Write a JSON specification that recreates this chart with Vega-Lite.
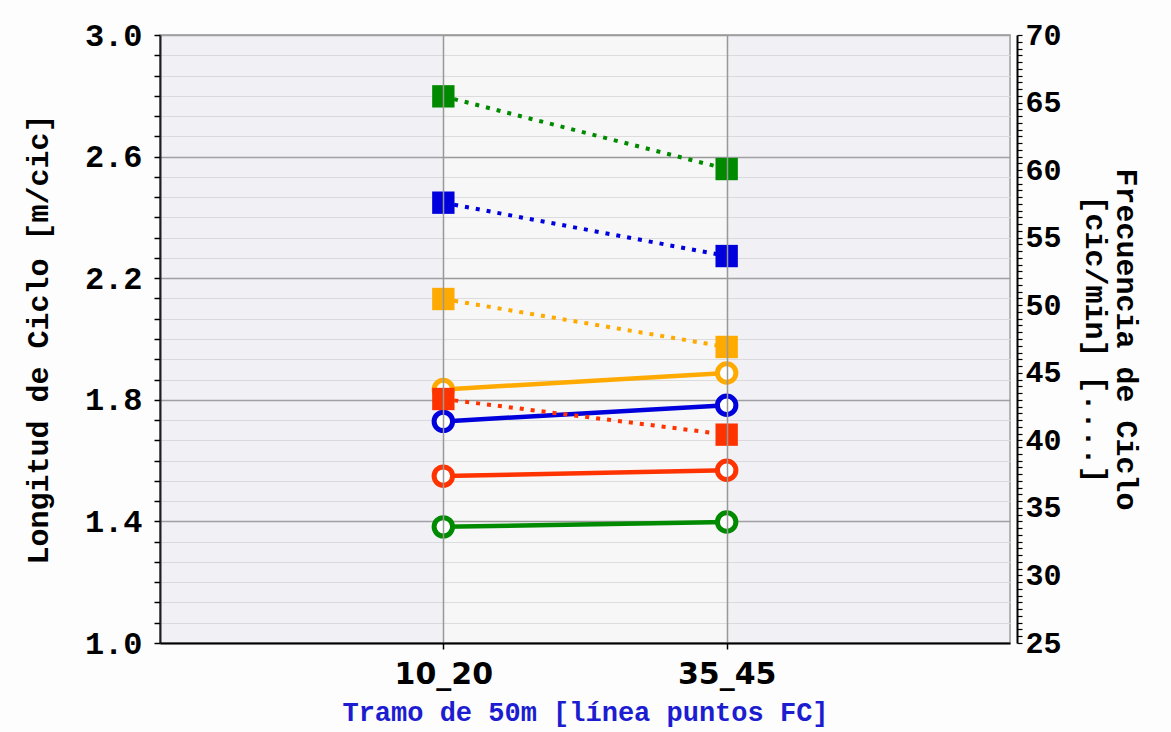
{
  "$schema": "https://vega.github.io/schema/vega-lite/v6.json",
  "width": 850,
  "height": 608,
  "autosize": {"type": "none"},
  "padding": {"left": 160, "top": 35, "right": 161, "bottom": 89},
  "background": "#fdfdfd",
  "config": {
    "view": {"fill": "#f7f7f7", "stroke": "#999999", "strokeWidth": 1.5},
    "axis": {"labelColor": "black", "titleColor": "black", "domainColor": "black", "tickColor": "black"}
  },
  "data": {
    "values": [
      {"tramo": "10_20", "nadador": "A", "medida": "Longitud", "valor": 1.382},
      {"tramo": "35_45", "nadador": "A", "medida": "Longitud", "valor": 1.398},
      {"tramo": "10_20", "nadador": "B", "medida": "Longitud", "valor": 1.549},
      {"tramo": "35_45", "nadador": "B", "medida": "Longitud", "valor": 1.568},
      {"tramo": "10_20", "nadador": "C", "medida": "Longitud", "valor": 1.729},
      {"tramo": "35_45", "nadador": "C", "medida": "Longitud", "valor": 1.782},
      {"tramo": "10_20", "nadador": "D", "medida": "Longitud", "valor": 1.834},
      {"tramo": "35_45", "nadador": "D", "medida": "Longitud", "valor": 1.888},
      {"tramo": "10_20", "nadador": "A", "medida": "Frecuencia", "valor": 65.46},
      {"tramo": "35_45", "nadador": "A", "medida": "Frecuencia", "valor": 60.08},
      {"tramo": "10_20", "nadador": "B", "medida": "Frecuencia", "valor": 43.06},
      {"tramo": "35_45", "nadador": "B", "medida": "Frecuencia", "valor": 40.42},
      {"tramo": "10_20", "nadador": "C", "medida": "Frecuencia", "valor": 57.59},
      {"tramo": "35_45", "nadador": "C", "medida": "Frecuencia", "valor": 53.64},
      {"tramo": "10_20", "nadador": "D", "medida": "Frecuencia", "valor": 50.46},
      {"tramo": "35_45", "nadador": "D", "medida": "Frecuencia", "valor": 46.91}
    ]
  },
  "encoding": {
    "x": {
      "field": "tramo",
      "type": "ordinal",
      "scale": {"type": "point", "padding": 1, "domain": ["10_20", "35_45"]},
      "axis": {
        "title": "Tramo de 50m [línea puntos FC]",
        "titleColor": "#1c1cd0",
        "titleFont": "Liberation Mono",
        "titleFontSize": 27,
        "titleFontWeight": "bold",
        "titlePadding": 10,
        "labelAngle": 0,
        "labelFont": "DejaVu Sans",
        "labelFontSize": 30,
        "labelFontWeight": "bold",
        "labelPadding": 10,
        "tickSize": 6,
        "tickWidth": 1.5,
        "domainWidth": 2,
        "grid": true,
        "gridColor": "#999999",
        "gridWidth": 1.5
      }
    }
  },
  "layer": [
    {
      "data": {"values": [{}]},
      "mark": {"type": "rect", "color": "#c8c8ea", "opacity": 0.15},
      "encoding": {
        "x": {"datum": "10_20"},
        "x2": {"value": 0},
        "y": {"value": 0},
        "y2": {"value": "height"}
      }
    },
    {
      "data": {"values": [{}]},
      "mark": {"type": "rect", "color": "#c8c8ea", "opacity": 0.15},
      "encoding": {
        "x": {"datum": "35_45"},
        "x2": {"value": "width"},
        "y": {"value": 0},
        "y2": {"value": "height"}
      }
    },
    {
      "transform": [{"filter": "datum.medida == 'Longitud'"}],
      "encoding": {
        "y": {
          "field": "valor",
          "type": "quantitative",
          "scale": {"domain": [1, 3], "nice": false, "zero": false},
          "axis": {
            "title": "Longitud de Ciclo [m/cic]",
            "titleFont": "Liberation Mono",
            "titleFontSize": 30,
            "titleFontWeight": "bold",
            "titlePadding": 31,
            "values": [1, 1.066667, 1.133333, 1.2, 1.266667, 1.333333, 1.4, 1.466667, 1.533333, 1.6, 1.666667, 1.733333, 1.8, 1.866667, 1.933333, 2, 2.066667, 2.133333, 2.2, 2.266667, 2.333333, 2.4, 2.466667, 2.533333, 2.6, 2.666667, 2.733333, 2.8, 2.866667, 2.933333, 3],
            "labelExpr": "abs((datum.value-1)*2.5 - round((datum.value-1)*2.5)) < 0.01 ? format(datum.value, '.1f') : ''",
            "labelFont": "Liberation Mono",
            "labelFontSize": 32,
            "labelFontWeight": "bold",
            "labelPadding": 12,
            "labelOverlap": false,
            "tickSize": 6,
            "tickWidth": 1.5,
            "domainWidth": 2,
            "grid": true,
            "gridColor": {"condition": {"test": "abs((datum.value-1)*2.5 - round((datum.value-1)*2.5)) < 0.01", "value": "#999999"}, "value": "#dcdcdc"},
            "gridWidth": {"condition": {"test": "abs((datum.value-1)*2.5 - round((datum.value-1)*2.5)) < 0.01", "value": 1.5}, "value": 1.2}
          }
        },
        "stroke": {
          "field": "nadador",
          "type": "nominal",
          "scale": {"domain": ["A", "B", "C", "D"], "range": ["#008a00", "#ff3300", "#0000dd", "#ffaa00"]},
          "legend": null
        }
      },
      "layer": [
        {"mark": {"type": "line", "strokeWidth": 4.5}},
        {"mark": {"type": "point", "shape": "circle", "filled": true, "fill": "white", "size": 340, "strokeWidth": 5, "opacity": 1}}
      ]
    },
    {
      "transform": [{"filter": "datum.medida == 'Frecuencia'"}],
      "encoding": {
        "y": {
          "field": "valor",
          "type": "quantitative",
          "scale": {"domain": [25, 70], "nice": false, "zero": false},
          "axis": {
            "orient": "right",
            "offset": 7,
            "title": ["Frecuencia de Ciclo", "[cic/min] [....]"],
            "titleFont": "Liberation Mono",
            "titleFontSize": 30,
            "titleFontWeight": "bold",
            "titleLineHeight": 31,
            "titlePadding": 18,
            "values": [25, 25.5, 26, 26.5, 27, 27.5, 28, 28.5, 29, 29.5, 30, 30.5, 31, 31.5, 32, 32.5, 33, 33.5, 34, 34.5, 35, 35.5, 36, 36.5, 37, 37.5, 38, 38.5, 39, 39.5, 40, 40.5, 41, 41.5, 42, 42.5, 43, 43.5, 44, 44.5, 45, 45.5, 46, 46.5, 47, 47.5, 48, 48.5, 49, 49.5, 50, 50.5, 51, 51.5, 52, 52.5, 53, 53.5, 54, 54.5, 55, 55.5, 56, 56.5, 57, 57.5, 58, 58.5, 59, 59.5, 60, 60.5, 61, 61.5, 62, 62.5, 63, 63.5, 64, 64.5, 65, 65.5, 66, 66.5, 67, 67.5, 68, 68.5, 69, 69.5, 70],
            "labelExpr": "datum.value % 5 == 0 ? format(datum.value, 'd') : ''",
            "labelFont": "Liberation Mono",
            "labelFontSize": 30,
            "labelFontWeight": "bold",
            "labelPadding": 3,
            "labelOverlap": false,
            "tickSize": 5,
            "tickWidth": 1.2,
            "domainWidth": 2,
            "grid": false
          }
        },
        "fill": {
          "field": "nadador",
          "type": "nominal",
          "scale": {"domain": ["A", "B", "C", "D"], "range": ["#008a00", "#ff3300", "#0000dd", "#ffaa00"]},
          "legend": null
        },
        "stroke": {
          "field": "nadador",
          "type": "nominal",
          "legend": null
        }
      },
      "layer": [
        {"mark": {"type": "line", "strokeWidth": 4, "strokeDash": [4, 7], "strokeCap": "butt"}},
        {"mark": {"type": "square", "size": 500, "opacity": 1, "filled": true, "strokeWidth": 0}}
      ]
    }
  ],
  "resolve": {"scale": {"y": "independent"}}
}
